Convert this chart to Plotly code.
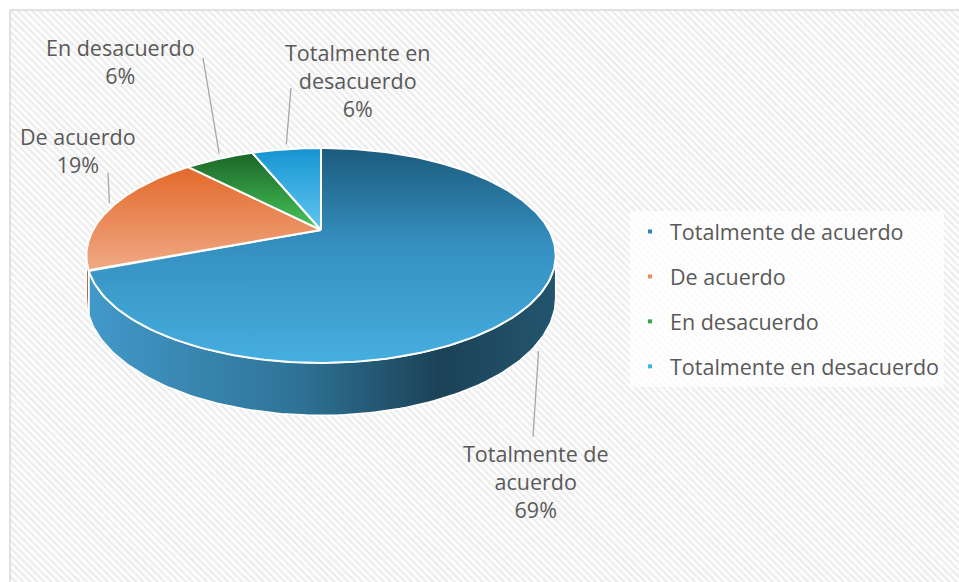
import numpy as np
import plotly.graph_objects as go

# ---------------- data ----------------
categories = ["Totalmente de acuerdo", "De acuerdo", "En desacuerdo", "Totalmente en desacuerdo"]
percent_values = [69, 19, 6, 6]
label_texts = ["Totalmente de<br>acuerdo<br>69%", "De acuerdo<br>19%", "En desacuerdo<br>6%",
               "Totalmente en<br>desacuerdo<br>6%"]

# ---------------- style ----------------
W, H = 959, 582
TEXT = "#595959"
FONT = "Open Sans"
FS = 21.5
top_scales = [
    [[0, "#46aee0"], [0.55, "#3590c0"], [1, "#1c5b7d"]],
    [[0, "#f0aa85"], [1, "#e3692a"]],
    [[0, "#47c65b"], [1, "#1b6426"]],
    [[0, "#62c6ef"], [1, "#1594d1"]],
]
side_scales = [
    [[0, "#4299ca"], [0.45, "#2e7396"], [0.75, "#1b4257"], [1, "#23556e"]],
    [[0, "#c8683a"], [1, "#b85a30"]],
    [[0, "#1b6426"], [1, "#1b6426"]],
    [[0, "#137fb3"], [1, "#137fb3"]],
]
legend_colors = ["#2e86b8", "#ed8b5b", "#3aa64a", "#3ab5e6"]
label_pos = [(536, 481), (78, 150), (120, 61), (358, 80)]
leader_end = [(533, 437), (108, 173), (203, 58), (291, 88)]

# 3D perspective projection of the pie disk (pixel space)
CX, CY0, EX, BY, PC, DEPTH = 321, 230, 228, 46.9, -0.237, 40


def project(theta_deg, drop=0.0):
    t = np.radians(theta_deg)
    u, v = np.sin(t), -np.cos(t)
    den = 1 + PC * v
    return CX + EX * u / den, (CY0 + BY * v + drop) / den


vals = np.array(percent_values, dtype=float)
bounds = np.concatenate([[0], np.cumsum(vals) / vals.sum() * 360])
sil = np.degrees(np.arccos(PC))  # silhouette angle (right); left = 360 - sil
vis_lo, vis_hi = sil, 360 - sil

fig = go.Figure()

# chart-area background with diagonal hatch (right/bottom borders fall outside the view)
fig.add_trace(go.Scatter(
    x=[10, W + 6, W + 6, 10, 10], y=[10, 10, H + 6, H + 6, 10], mode="lines", fill="toself",
    line=dict(color="#d9d9d9", width=1.5),
    fillpattern=dict(shape="\\", fgcolor="#dcdcdc", bgcolor="#ffffff", size=5, solidity=0.5),
    hoverinfo="skip", showlegend=False))

# side walls
for i, cat in enumerate(categories):
    lo, hi = max(bounds[i], vis_lo), min(bounds[i + 1], vis_hi)
    if hi <= lo:
        continue
    th = np.linspace(lo, hi, 120)
    xt, yt = project(th)
    xb, yb = project(th[::-1], DEPTH)
    fig.add_trace(go.Scatter(
        x=np.concatenate([xt, xb, xt[:1]]), y=np.concatenate([yt, yb, yt[:1]]),
        mode="lines", fill="toself", line=dict(color="white", width=1.5),
        fillgradient=dict(type="horizontal", colorscale=side_scales[i]),
        hoverinfo="skip", showlegend=False))

# top faces
for i, cat in enumerate(categories):
    th = np.linspace(bounds[i], bounds[i + 1], 200)
    xa, ya = project(th)
    fig.add_trace(go.Scatter(
        x=np.concatenate([[CX], xa, [CX]]), y=np.concatenate([[CY0], ya, [CY0]]),
        mode="lines", fill="toself", line=dict(color="white", width=2),
        fillgradient=dict(type="vertical", colorscale=top_scales[i]),
        name=cat, hoverinfo="skip", showlegend=False))

# leader lines and data labels
for i, cat in enumerate(categories):
    mid = (bounds[i] + bounds[i + 1]) / 2
    in_front = vis_lo <= mid <= vis_hi
    ax, ay = project(mid, DEPTH * 1.2 if in_front else -6)
    ex, ey = leader_end[i]
    fig.add_trace(go.Scatter(x=[ax, ex], y=[ay, ey], mode="lines",
                             line=dict(color="#a6a6a6", width=1.3),
                             hoverinfo="skip", showlegend=False))
    lx, ly = label_pos[i]
    fig.add_annotation(x=lx, y=ly, xref="x", yref="y", text=label_texts[i], showarrow=False,
                       align="center", font=dict(size=FS, color=TEXT, family=FONT))

# legend entries
for i, cat in enumerate(categories):
    fig.add_trace(go.Scatter(x=[None], y=[None], mode="markers", name=cat, legendgroup=cat,
                             marker=dict(symbol="square", size=4, color=legend_colors[i])))

fig.update_layout(
    width=W, height=H, margin=dict(l=0, r=0, t=0, b=0),
    paper_bgcolor="white", plot_bgcolor="white",
    xaxis=dict(range=[0, W], visible=False, fixedrange=True),
    yaxis=dict(range=[H, 0], visible=False, fixedrange=True),
    showlegend=True,
    legend=dict(x=630 / W, y=1 - 211 / H, xanchor="left", yanchor="top",
                bgcolor="rgba(255,255,255,0.75)", font=dict(size=FS, color=TEXT, family=FONT),
                tracegroupgap=14, itemsizing="trace"),
    font=dict(family=FONT, color=TEXT),
)

fig.write_html("out.html", config={"displayModeBar": False},
               post_script="document.body.style.margin='0';")
